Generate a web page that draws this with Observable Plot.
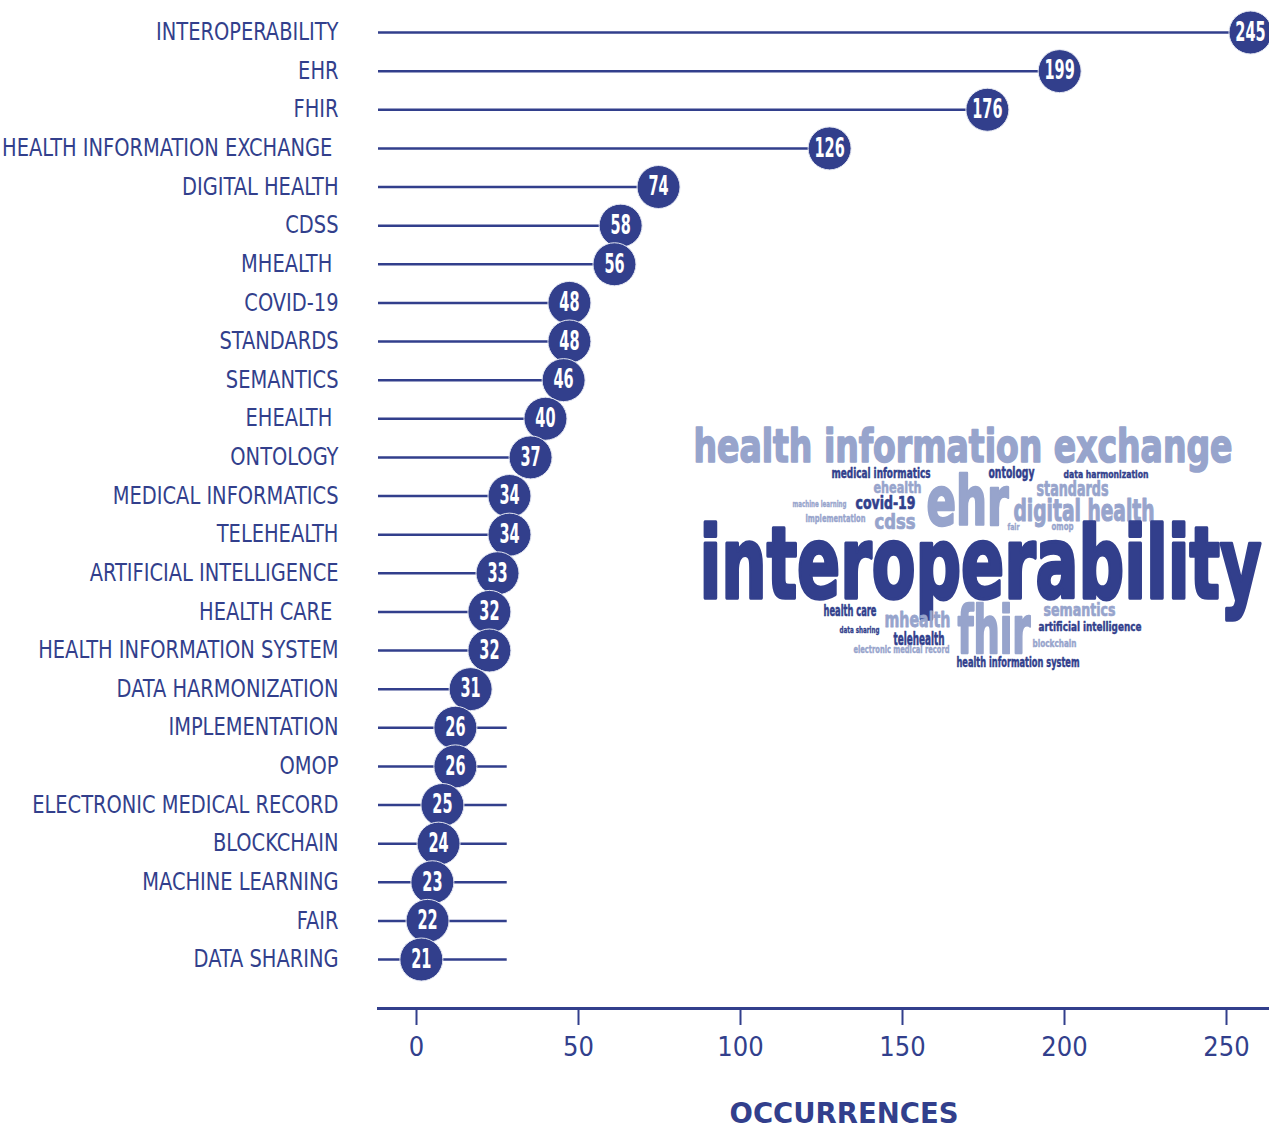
<!DOCTYPE html>
<html>
<head>
<meta charset="utf-8">
<script src="https://cdn.jsdelivr.net/npm/d3@7"></script>
<script src="https://cdn.jsdelivr.net/npm/@observablehq/plot@0.6"></script>
<style>
  html, body { margin: 0; padding: 0; background: #fff; }
  #wrap { position: relative; width: 1269px; height: 1128px; overflow: hidden; }
  #wrap svg text { white-space: pre; }
  #cloud { position: absolute; left: 690px; top: 420px; }
</style>
</head>
<body>
<div id="wrap"><div id="main"></div><div id="cloud"></div></div>
<script>
// ---- data ----
const keywords = ["INTEROPERABILITY","EHR","FHIR","HEALTH INFORMATION EXCHANGE ","DIGITAL HEALTH","CDSS","MHEALTH ","COVID-19","STANDARDS","SEMANTICS","EHEALTH ","ONTOLOGY","MEDICAL INFORMATICS","TELEHEALTH","ARTIFICIAL INTELLIGENCE","HEALTH CARE ","HEALTH INFORMATION SYSTEM","DATA HARMONIZATION","IMPLEMENTATION","OMOP","ELECTRONIC MEDICAL RECORD","BLOCKCHAIN","MACHINE LEARNING","FAIR","DATA SHARING"];
const counts = [245,199,176,126,74,58,56,48,48,46,40,37,34,34,33,32,32,31,26,26,25,24,23,22,21];
// where each bubble sits on the occurrences axis
const markerPos = [257.4,198.5,176.2,127.5,74.7,63.0,61.1,47.2,47.2,45.4,39.8,35.2,28.7,28.7,25.0,22.5,22.5,16.7,12.0,12.0,8.0,6.8,4.9,3.4,1.5];
// where each stem ends on the axis
const stemEnd = [257.4,198.5,176.2,127.5,74.7,63.0,61.1,47.2,47.2,45.4,39.8,35.2,28.7,28.7,25.0,22.5,22.5,16.7,28.0,28.0,28.0,28.0,28.0,28.0,28.0];
const xDomain = [-11.73, 263.27];
const xTicks = [0,50,100,150,200,250];
const axisTitle = "OCCURRENCES";

// word cloud (words and their tone)
const cloudWords = ["health information exchange","medical informatics","ontology","data harmonization","ehealth","standards","ehr","machine learning","covid-19","digital health","implementation","cdss","fair","omop","interoperability","health care","mhealth","fhir","semantics","data sharing","artificial intelligence","telehealth","blockchain","electronic medical record","health information system"];
const cloudTone = ["light","dark","dark","dark","light","light","light","light","dark","light","light","light","light","light","dark","dark","light","light","light","dark","dark","dark","light","light","dark"];
// word-cloud layout (left, baseline, width, font size) in cloud-local pixels
const cloudLeft  = [3,141,298,373,183,346,236,102,165,323,115,184,317,361,9,133,194,267,353,149,348,203,342,163,266];
const cloudBase  = [41,57,57,57,72,75,104,86,88,100,101,108.5,109,109,177,195,206,232,195,212.5,210.5,224,226.5,232.5,246.5];
const cloudWidth = [539,99,46,85,48,72,82,54,60,141,60,41,12,22,562,53,66,73,72,40,103,51,44,96,123];
const cloudSize  = [46,14,16,11,16,21,68,9.5,17,30,10,21,9,11,100,15,22,65,17,9.5,13,17.5,11,10,13.5];

// ---- styling ----
const navy = "#323f8c";
const light = "#97a4cc";
const cond = "'DejaVu Sans Condensed', 'DejaVu Sans', sans-serif";

function squeeze(nodes, sx) {
  nodes.forEach(t => {
    let tr = t.getAttribute("transform");
    if (!tr) {
      const x = t.getAttribute("x") || 0, y = t.getAttribute("y") || 0;
      t.removeAttribute("x"); t.removeAttribute("y");
      tr = `translate(${x},${y})`;
    }
    t.setAttribute("transform", tr + ` scale(${sx},1)`);
  });
}

const rows = keywords.map((k, i) => ({keyword: k, count: counts[i], pos: markerPos[i], stem: stemEnd[i]}));

const chart = Plot.plot({
  width: 1269,
  height: 1128,
  marginLeft: 378,
  marginRight: 0,
  marginTop: 0,
  marginBottom: 120,
  style: {color: navy, fontFamily: cond, background: "transparent"},
  x: {domain: xDomain, ticks: xTicks},
  y: {type: "point", domain: keywords, range: [32, 959], padding: 0, round: false},
  marks: [
    Plot.frame({anchor: "bottom", stroke: navy, strokeWidth: 3}),
    Plot.axisX({ticks: xTicks, tickSize: 17, tickPadding: 11, strokeWidth: 2, fontSize: 27, fill: navy, label: null, fontFamily: cond}),
    Plot.axisY({tickSize: 0, tickPadding: 40, fontSize: 24, fill: navy, label: null, fontFamily: cond}),
    Plot.ruleY(rows, {y: "keyword", x1: xDomain[0], x2: "stem", stroke: navy, strokeWidth: 2.5}),
    Plot.dot(rows, {x: "pos", y: "keyword", r: 21.5, fill: navy, stroke: "#e4e7f2", strokeWidth: 1}),
    Plot.text(rows, {x: "pos", y: "keyword", text: d => String(d.count), fill: "white", fontSize: 26, fontWeight: "bold", fontFamily: cond, ariaDescription: "count-labels"}),
    Plot.text([axisTitle], {frameAnchor: "bottom", text: d => d, dx: 20, dy: 106, lineAnchor: "middle", fontSize: 27.5, fontWeight: "bold", fill: navy, fontFamily: "'DejaVu Sans', sans-serif"})
  ]
});
document.getElementById("main").appendChild(chart);

// condensed lettering like the original
squeeze(chart.querySelectorAll('g[aria-description="count-labels"] text'), 0.62);
squeeze(chart.querySelectorAll('g[aria-label="y-axis tick label"] text'), 0.9);

// ---- word cloud ----
const cloudRows = cloudWords.map((w, i) => ({word: w, tone: cloudTone[i], left: cloudLeft[i], base: cloudBase[i], width: cloudWidth[i], size: cloudSize[i]}));
const cloud = Plot.plot({
  width: 579,
  height: 260,
  margin: 0,
  style: {background: "transparent"},
  x: {domain: [0, 579], range: [0, 579], axis: null},
  y: {domain: [0, 260], range: [0, 260], axis: null},
  marks: [
    Plot.text(cloudRows, {
      x: "left", y: "base", text: "word",
      fontSize: "size",
      fill: d => d.tone === "dark" ? navy : light,
      textAnchor: "start", lineAnchor: "bottom",
      fontWeight: "bold", fontFamily: cond,
      ariaDescription: "cloud-words"
    })
  ]
});
document.getElementById("cloud").appendChild(cloud);
const byWord = new Map(cloudRows.map(d => [d.word, d]));
cloud.querySelectorAll('g[aria-description="cloud-words"] text').forEach(t => {
  const d = byWord.get(t.textContent);
  if (!d) return;
  t.setAttribute("textLength", d.width);
  t.setAttribute("lengthAdjust", "spacingAndGlyphs");
  // heavier, Impact-like strokes
  t.setAttribute("stroke", d.tone === "dark" ? navy : light);
  t.setAttribute("stroke-width", (d.size * 0.035).toFixed(2));
  t.setAttribute("stroke-linejoin", "round");
});
</script>
</body>
</html>
